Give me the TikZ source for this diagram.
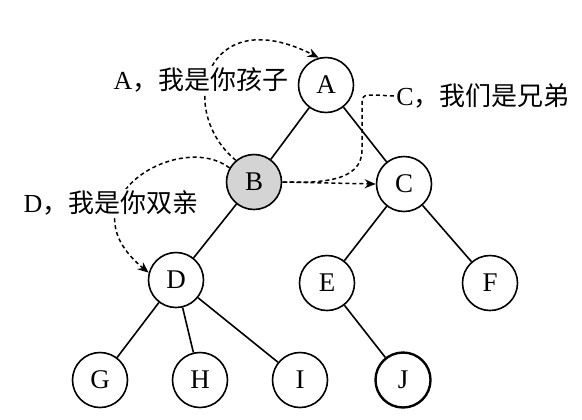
\documentclass[tikz,border=0pt]{standalone}
\usepackage{fontspec}
\setmainfont{Liberation Serif}
\newfontfamily\cjk{Noto Sans CJK SC}
\usetikzlibrary{arrows.meta,backgrounds}
\begin{document}
\begin{tikzpicture}[x=0.5pt,y=-0.5pt,
  tn/.style={circle,draw,line width=0.8pt,fill=white,minimum size=27.5pt,inner sep=0pt,font=\fontsize{13.5}{15}\selectfont},
  edge/.style={line width=0.8pt},
  dsh/.style={line width=0.75pt,dash pattern=on 2pt off 1.5pt},
  tip/.style={-{Stealth[length=5.5pt,width=4.5pt]}},
  lbl/.style={fill=white,inner sep=1pt,font=\fontsize{13}{15}\selectfont}]
\useasboundingbox (0,0) rectangle (582,419);
\node[tn] (A) at (326,85) {A};
\node[tn,fill=black!17] (B) at (254,182) {B};
\node[tn] (C) at (404,184) {C};
\node[tn] (D) at (176,280) {D};
\node[tn] (E) at (327,283) {E};
\node[tn] (F) at (490,283) {F};
\node[tn] (G) at (100,380) {G};
\node[tn] (H) at (200,380) {H};
\node[tn] (I) at (300,380) {I};
\node[tn,line width=1.2pt] (J) at (403,380) {J};
\draw[edge] (A) -- (B);
\draw[edge] (A) -- (C);
\draw[edge] (B) -- (D);
\draw[edge] (C) -- (E);
\draw[edge] (C) -- (F);
\draw[edge] (D) -- (G);
\draw[edge] (D) -- (H);
\draw[edge] (D) -- (I);
\draw[edge] (E) -- (J);
\node[lbl] (la) at (201,80) {A{\cjk ，我是你孩子}};
\node[lbl] (lc) at (483,96) {C{\cjk ，我们是兄弟}};
\node[lbl] (ld) at (111,203) {D{\cjk ，我是你双亲}};
\begin{scope}[on background layer]
\draw[dsh,tip] (B.130) .. controls (175,110) and (205,0) .. (A.105);
\draw[dsh,tip] (B.150) .. controls (180,130) and (60,200) .. (D.165);
\end{scope}
\draw[dsh,tip] (B.east) -- (C.west);
\draw[dsh] (lc.west) -- (375,95) .. controls (362,95) .. (362,110) -- (362,150) .. controls (362,182) and (320,183) .. (B.east);
\end{tikzpicture}
\end{document}
